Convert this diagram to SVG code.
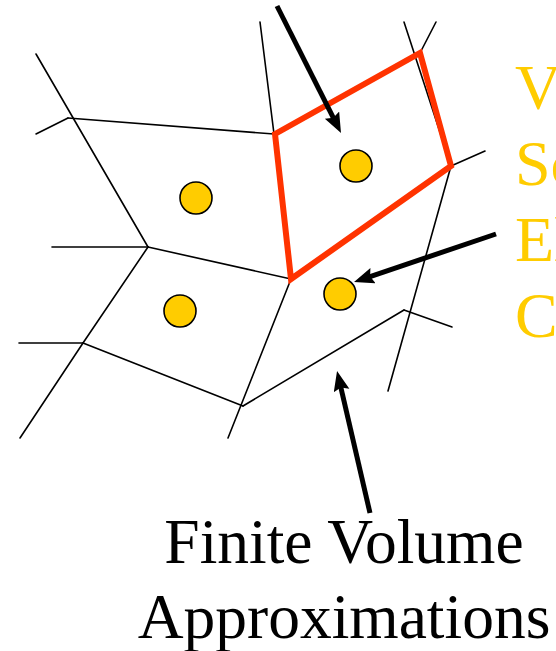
<svg xmlns="http://www.w3.org/2000/svg" width="556" height="651" viewBox="0 0 556 651">
  <style>
    .mesh { stroke: #000; stroke-width: 1.6; fill: none; stroke-linecap: round; }
    .cell { stroke: #FF3300; stroke-width: 6; fill: none; stroke-linejoin: miter; }
    .dot { fill: #FFCC00; stroke: #000; stroke-width: 1.6; }
    .arrow { stroke: #000; stroke-width: 5; fill: none; marker-end: url(#head); }
    .lbl { font-family: "Liberation Serif", "Times New Roman", serif; font-size: 64px; fill: #FFCC00; }
    .cap { font-family: "Liberation Serif", "Times New Roman", serif; font-size: 63.5px; fill: #000; text-anchor: middle; }
  </style>
  <defs>
    <marker id="head" markerUnits="userSpaceOnUse" markerWidth="22" markerHeight="18" refX="10" refY="8" orient="auto">
      <path d="M0,0 L20,8 L0,16 L3,8 z" fill="#000"/>
    </marker>
  </defs>
  <rect width="556" height="651" fill="#fff"/>
  <g id="mesh">
    <line class="mesh" x1="36" y1="54" x2="148" y2="247"/>
    <line class="mesh" x1="36" y1="134" x2="68" y2="118"/>
    <line class="mesh" x1="68" y1="118" x2="274" y2="134"/>
    <line class="mesh" x1="260" y1="22" x2="274" y2="134"/>
    <line class="mesh" x1="52" y1="247" x2="148" y2="247"/>
    <line class="mesh" x1="148" y1="247" x2="291" y2="279"/>
    <line class="mesh" x1="148" y1="247" x2="83" y2="343"/>
    <line class="mesh" x1="19" y1="343" x2="83" y2="343"/>
    <line class="mesh" x1="83" y1="343" x2="20" y2="438"/>
    <line class="mesh" x1="83" y1="343" x2="243" y2="406"/>
    <line class="mesh" x1="291" y1="279" x2="228" y2="438"/>
    <line class="mesh" x1="243" y1="406" x2="404" y2="310"/>
    <line class="mesh" x1="404" y1="310" x2="452" y2="327"/>
    <line class="mesh" x1="451" y1="166" x2="485" y2="151"/>
    <line class="mesh" x1="451" y1="166" x2="388" y2="391"/>
    <line class="mesh" x1="404" y1="22" x2="451" y2="166"/>
    <line class="mesh" x1="436" y1="22" x2="420" y2="53"/>
  </g>
  <g id="control-volume">
    <polygon class="cell" points="275,134 420,53 451,166 291,279"/>
  </g>
  <g id="dot-1"><circle class="dot" cx="196" cy="198" r="16"/></g>
  <g id="dot-2"><circle class="dot" cx="356" cy="166" r="16"/></g>
  <g id="dot-3"><circle class="dot" cx="180" cy="311" r="16"/></g>
  <g id="dot-4"><circle class="dot" cx="340" cy="294" r="16"/></g>
  <g id="connectors">
    <line class="arrow" x1="277" y1="6" x2="336.5" y2="124.1"/>
    <line class="arrow" x1="496" y1="234" x2="363.5" y2="278.8"/>
    <line class="arrow" x1="370" y1="513" x2="339.3" y2="380.7"/>
  </g>
  <g id="side-label">
    <text class="lbl" x="515" y="109">V</text>
    <text class="lbl" x="515" y="185">Sc</text>
    <text class="lbl" x="515" y="261">El</text>
    <text class="lbl" x="515" y="337">C</text>
  </g>
  <g id="caption">
    <text class="cap" x="344" y="563">Finite Volume</text>
    <text class="cap" x="344" y="638">Approximations</text>
  </g>
</svg>
